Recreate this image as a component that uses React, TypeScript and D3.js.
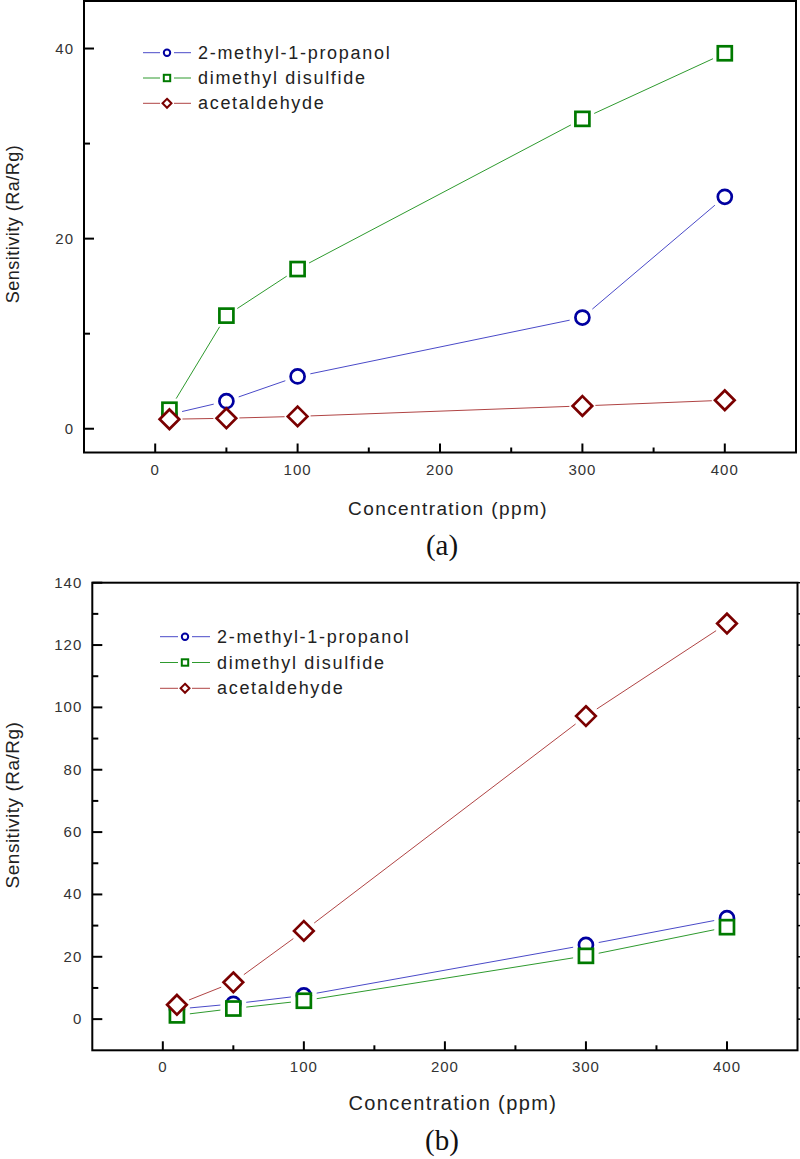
import React from "react";
import * as d3 from "d3";

const concentrations = [10, 50, 100, 300, 400];
const seriesNames = ["2-methyl-1-propanol", "dimethyl disulfide", "acetaldehyde"];

// Panel (a)
const aPropanol = [1.5, 2.9, 5.5, 11.7, 24.4];
const aDisulfide = [2.0, 11.9, 16.8, 32.6, 39.5];
const aAcetaldehyde = [1.0, 1.1, 1.3, 2.4, 3.0];

// Panel (b)
const bPropanol = [3.2, 4.9, 7.6, 23.8, 32.4];
const bDisulfide = [1.2, 3.4, 5.9, 20.3, 29.5];
const bAcetaldehyde = [4.6, 11.8, 28.3, 97.2, 126.9];

const xMajorTicks = [0, 100, 200, 300, 400];
const xMinorTicks = [50, 150, 250, 350];
const aYMajor = [0, 20, 40];
const aYMinor = [10, 30];
const bYMajor = [0, 20, 40, 60, 80, 100, 120, 140];
const bYMinor = [10, 30, 50, 70, 90, 110, 130];

const lineColors = ["#4a4ac8", "#2e9a2e", "#b04444"];
const markColors = ["#0000a0", "#007a00", "#7a0000"];
const shapes = ["circle", "square", "diamond"];

const FONT = "'Liberation Sans', Arial, sans-serif";

function Marker({ shape, x, y, size, color, sw }: any) {
  if (shape === "circle") {
    return <circle cx={x} cy={y} r={size} fill="white" stroke={color} strokeWidth={sw} />;
  }
  if (shape === "square") {
    return (
      <rect x={x - size} y={y - size} width={size * 2} height={size * 2} fill="white" stroke={color} strokeWidth={sw} />
    );
  }
  const s = size * 1.4;
  return (
    <path d={`M${x},${y - s}L${x + s},${y}L${x},${y + s}L${x - s},${y}Z`} fill="white" stroke={color} strokeWidth={sw} />
  );
}

function Panel({ top, left, right, bottom, yDomain, yMajor, yMinor, series, legend, label, labelY, xTitleY, yTitleY, fs, rightTicks }: any) {
  const x = d3.scaleLinear().domain([-50, 450]).range([left, right]);
  const y = d3.scaleLinear().domain(yDomain).range([bottom, top]);
  const gap = 13;
  const segs: any[] = [];
  series.forEach((vals: number[], si: number) => {
    for (let i = 0; i < vals.length - 1; i++) {
      const x1 = x(concentrations[i]), y1 = y(vals[i]);
      const x2 = x(concentrations[i + 1]), y2 = y(vals[i + 1]);
      const dx = x2 - x1, dy = y2 - y1;
      const len = Math.hypot(dx, dy);
      if (len <= gap * 2) continue;
      const ux = dx / len, uy = dy / len;
      segs.push(
        <line key={`s${si}-${i}`} x1={x1 + ux * gap} y1={y1 + uy * gap} x2={x2 - ux * gap} y2={y2 - uy * gap} stroke={lineColors[si]} strokeWidth={1} />
      );
    }
  });
  const marks: any[] = [];
  series.forEach((vals: number[], si: number) => {
    vals.forEach((v, i) => {
      marks.push(
        <Marker key={`m${si}-${i}`} shape={shapes[si]} x={x(concentrations[i])} y={y(v)} size={7} color={markColors[si]} sw={2.7} />
      );
    });
  });
  return (
    <g>
      {segs}
      {marks}
      <rect x={left} y={top} width={right - left} height={bottom - top} fill="none" stroke="#000" strokeWidth={2} />
      {xMajorTicks.map((t) => (
        <g key={`xt${t}`}>
          <line x1={x(t)} x2={x(t)} y1={bottom} y2={bottom - 9} stroke="#000" strokeWidth={2} />
          <text x={x(t)} y={bottom + 22} textAnchor="middle" fontFamily={FONT} fontSize={15} letterSpacing={1} fill="#333">{t}</text>
        </g>
      ))}
      {xMinorTicks.map((t) => (
        <line key={`xm${t}`} x1={x(t)} x2={x(t)} y1={bottom} y2={bottom - 5} stroke="#000" strokeWidth={2} />
      ))}
      {yMajor.map((t: number) => (
        <g key={`yt${t}`}>
          <line x1={left} x2={left + 10} y1={y(t)} y2={y(t)} stroke="#000" strokeWidth={2} />
          <text x={left - 10} y={y(t) + 5} textAnchor="end" fontFamily={FONT} fontSize={15} letterSpacing={1} fill="#333">{t}</text>
          {rightTicks && <line x1={right} x2={right + 5} y1={y(t)} y2={y(t)} stroke="#000" strokeWidth={1.5} />}
        </g>
      ))}
      {yMinor.map((t: number) => (
        <g key={`ym${t}`}>
          <line x1={left} x2={left + 6} y1={y(t)} y2={y(t)} stroke="#000" strokeWidth={2} />
          {rightTicks && <line x1={right} x2={right + 4} y1={y(t)} y2={y(t)} stroke="#000" strokeWidth={1.5} />}
        </g>
      ))}
      {seriesNames.map((n, i) => {
        const ly = legend.y + i * legend.dy;
        const mx = (legend.x1 + legend.x2) / 2;
        return (
          <g key={`lg${i}`}>
            <line x1={legend.x1} x2={mx - 7} y1={ly} y2={ly} stroke={lineColors[i]} strokeWidth={1} />
            <line x1={mx + 7} x2={legend.x2} y1={ly} y2={ly} stroke={lineColors[i]} strokeWidth={1} />
            <Marker shape={shapes[i]} x={mx} y={ly} size={3.2} color={markColors[i]} sw={2} />
            <text x={legend.x2 + 7} y={ly + 6} fontFamily={FONT} fontSize={18} letterSpacing={1.7} fill="#222">{n}</text>
          </g>
        );
      })}
      <text x={(left + right) / 2 + 8} y={xTitleY} textAnchor="middle" fontFamily={FONT} fontSize={fs} letterSpacing={1.4} fill="#222">
        Concentration (ppm)
      </text>
      <text transform={`translate(19,${yTitleY}) rotate(-90)`} textAnchor="middle" fontFamily={FONT} fontSize={fs - 1} letterSpacing={0.5} fill="#222">
        Sensitivity (Ra/Rg)
      </text>
      <text x={442} y={labelY} textAnchor="middle" fontFamily="'Liberation Serif', 'Times New Roman', serif" fontSize={29} fill="#111">
        {label}
      </text>
    </g>
  );
}

export default function App() {
  return (
    <svg width={800} height={1159} style={{ position: "absolute", left: 0, top: 0, background: "white" }}>
      <rect x={0} y={0} width={800} height={1159} fill="white" />
      <Panel
        top={1}
        left={84}
        right={796}
        bottom={452.5}
        yDomain={[-2.5, 45]}
        yMajor={aYMajor}
        yMinor={aYMinor}
        series={[aPropanol, aDisulfide, aAcetaldehyde]}
        legend={{ x1: 143, x2: 191, y: 52.7, dy: 25.3 }}
        label="(a)"
        labelY={555}
        xTitleY={515}
        yTitleY={224}
        fs={19}
        rightTicks={false}
      />
      <Panel
        top={582.7}
        left={92.3}
        right={797.5}
        bottom={1050.3}
        yDomain={[-10, 140]}
        yMajor={bYMajor}
        yMinor={bYMinor}
        series={[bPropanol, bDisulfide, bAcetaldehyde]}
        legend={{ x1: 160, x2: 210, y: 636.7, dy: 25.8 }}
        label="(b)"
        labelY={1150}
        xTitleY={1110}
        yTitleY={805}
        fs={20}
        rightTicks={true}
      />
    </svg>
  );
}
